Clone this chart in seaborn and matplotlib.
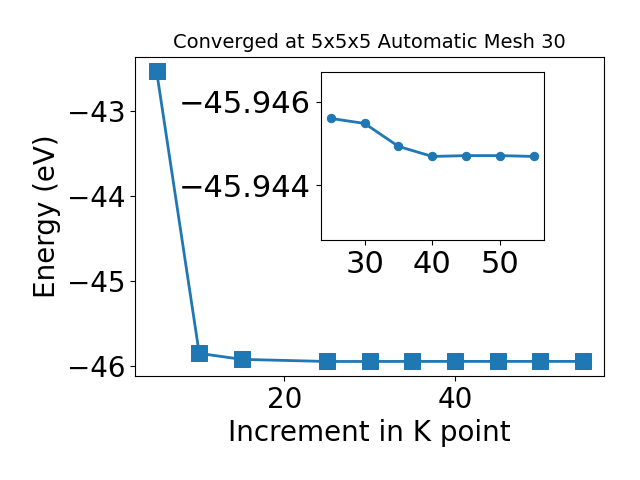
import matplotlib
matplotlib.use("Agg")
import matplotlib.pyplot as plt
import matplotlib.ticker as mticker
import seaborn as sns
import pandas as pd

# Data
kpoints = [5, 10, 15, 25, 30, 35, 40, 45, 50, 55]
energy = [-42.527, -45.850, -45.921, -45.94560, -45.94548, -45.94493,
          -45.94469, -45.94471, -45.94471, -45.94469]
title = "Converged at 5x5x5 Automatic Mesh 30"
xlabel = "Increment in K point"
ylabel = "Energy (eV)"
main_xticks = [20, 40]
main_yticks = [-46, -45, -44, -43]
inset_xticks = [30, 40, 50]
inset_yticks = [-45.946, -45.944]

df = pd.DataFrame({"k": kpoints, "E": energy})
df_in = df[df["k"] >= 25]

color = "#1f77b4"
fig = plt.figure(figsize=(6.4, 4.8), dpi=100)
ax = fig.add_axes([0.2114, 0.2167, 0.9438 - 0.2114, 0.8819 - 0.2167])
sns.lineplot(data=df, x="k", y="E", ax=ax, color=color, marker="s",
             markersize=12, linewidth=2, markeredgecolor=color)
ax.set_title(title, fontsize=14)
ax.set_xlabel(xlabel, fontsize=20)
ax.set_ylabel(ylabel, fontsize=20)
ax.set_xticks(main_xticks)
ax.set_yticks(main_yticks)
ax.tick_params(labelsize=20)

axin = fig.add_axes([0.501, 0.5, 0.349, 0.349])
sns.lineplot(data=df_in, x="k", y="E", ax=axin, color=color, marker="o",
             markersize=6, linewidth=2, markeredgecolor=color)
axin.set_ylim(-45.94269, -45.94670)
axin.set_xticks(inset_xticks)
axin.set_yticks(inset_yticks)
axin.yaxis.set_major_formatter(mticker.FuncFormatter(lambda v, p: ("%.3f" % v).replace("-", "\u2212")))
axin.tick_params(labelsize=22)
axin.set_xlabel("")
axin.set_ylabel("")

fig.savefig("out.png", dpi=100)
